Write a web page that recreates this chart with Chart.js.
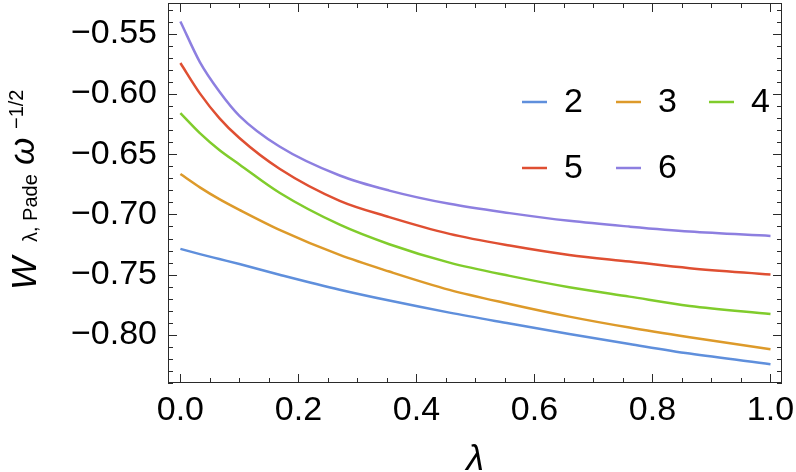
<!DOCTYPE html>
<html>
<head>
<meta charset="utf-8">
<script src="https://cdn.jsdelivr.net/npm/chart.js@4.4.1/dist/chart.umd.min.js"></script>
<style>
  html, body { margin: 0; padding: 0; background: #fff; }
  #wrap { width: 796px; height: 472px; }
</style>
</head>
<body>
<div id="wrap"><canvas id="myChart" width="796" height="472"></canvas></div>
<script>
// values
const lambdaValues = [0, 0.033, 0.066, 0.1, 0.168, 0.27, 0.354, 0.456, 0.558, 0.659, 0.761, 0.863, 1.0];
const order2 = [-0.7286, -0.7329, -0.7370, -0.7412, -0.7500, -0.7625, -0.7715, -0.7815, -0.7905, -0.7992, -0.8075, -0.8155, -0.8243];
const order3 = [-0.6665, -0.6775, -0.6873, -0.6962, -0.7128, -0.7336, -0.7474, -0.7626, -0.7743, -0.7848, -0.7939, -0.8019, -0.8119];
const order4 = [-0.6159, -0.6325, -0.6465, -0.6585, -0.6820, -0.7085, -0.7247, -0.7400, -0.7510, -0.7604, -0.7682, -0.7759, -0.7826];
const order5 = [-0.5743, -0.5995, -0.6200, -0.6366, -0.6621, -0.6887, -0.7022, -0.7161, -0.7258, -0.7336, -0.7391, -0.7446, -0.7499];
const order6 = [-0.5398, -0.5735, -0.5979, -0.6181, -0.6436, -0.6677, -0.6802, -0.6912, -0.6989, -0.7053, -0.7101, -0.7142, -0.7178];
const seriesLabels = ['2', '3', '4', '5', '6'];
const seriesColors = ['#5f8fdc', '#dd9a2a', '#80cc2c', '#df4f32', '#8d7fe0'];
const xTicks = [0, 0.2, 0.4, 0.6, 0.8, 1.0];
const yTicks = [-0.80, -0.75, -0.70, -0.65, -0.60, -0.55];

const FONT = '"Liberation Sans", Arial, sans-serif';

function toPoints(values) {
    return values.map((v, i) => ({ x: lambdaValues[i], y: v }));
}

const allSeries = [order2, order3, order4, order5, order6];
const datasets = allSeries.map((vals, i) => ({
    label: seriesLabels[i],
    data: toPoints(vals),
    borderColor: seriesColors[i],
    backgroundColor: seriesColors[i],
    borderWidth: 2.5,
    pointRadius: 0,
    cubicInterpolationMode: 'monotone',
    fill: false
}));

function minusFmt(v, digits) {
    const s = Math.abs(v).toFixed(digits);
    return v < -1e-9 ? '\u2212' + s : s;
}

// frame with inward ticks (Mathematica style), axis titles, inset legend
const framePlugin = {
    id: 'framePlugin',
    afterDraw(chart) {
        const { ctx, chartArea: a, scales: { x, y } } = chart;
        ctx.save();
        ctx.strokeStyle = '#2a2a2a';
        ctx.lineWidth = 1;
        ctx.strokeRect(a.left + 0.5, a.top + 0.5, a.right - a.left - 1, a.bottom - a.top - 1);

        ctx.beginPath();
        // y ticks: minor every 0.01, major at yTicks
        for (let k = -84; k <= -53; k++) {
            const v = k / 100;
            const py = Math.round(y.getPixelForValue(v)) + 0.5;
            const major = yTicks.some(t => Math.abs(t - v) < 1e-9);
            const len = major ? 9 : 5;
            ctx.moveTo(a.left, py); ctx.lineTo(a.left + len, py);
            ctx.moveTo(a.right, py); ctx.lineTo(a.right - len, py);
        }
        // x ticks: minor every 0.05, major at xTicks
        for (let k = 0; k <= 20; k++) {
            const v = k / 20;
            const px = Math.round(x.getPixelForValue(v)) + 0.5;
            const major = xTicks.some(t => Math.abs(t - v) < 1e-9);
            const len = major ? 9 : 5;
            ctx.moveTo(px, a.bottom); ctx.lineTo(px, a.bottom - len);
            ctx.moveTo(px, a.top); ctx.lineTo(px, a.top + len);
        }
        ctx.stroke();

        // legend inside the plot
        const cols = [522, 616, 709];
        const rows = [102, 168];
        ctx.textBaseline = 'middle';
        ctx.textAlign = 'left';
        ctx.font = '34px ' + FONT;
        chart.data.datasets.forEach((ds, i) => {
            const cx = cols[i % 3];
            const cy = rows[Math.floor(i / 3)];
            ctx.strokeStyle = ds.borderColor;
            ctx.lineWidth = 2.5;
            ctx.beginPath();
            ctx.moveTo(cx, cy); ctx.lineTo(cx + 25, cy);
            ctx.stroke();
            ctx.fillStyle = '#000';
            ctx.fillText(ds.label, cx + 42, cy + 1);
        });

        // x axis title
        ctx.textAlign = 'center';
        ctx.textBaseline = 'alphabetic';
        ctx.font = 'italic 36px ' + FONT;
        ctx.fillText('\u03bb', (a.left + a.right) / 2, 470);

        // y axis title, rotated
        ctx.translate(36, 290);
        ctx.rotate(-Math.PI / 2);
        ctx.textAlign = 'left';
        ctx.font = 'italic 35px ' + FONT;
        ctx.fillText('W', 0, 0);
        ctx.font = '20px ' + FONT;
        ctx.fillText('\u03bb, Pade', 48, 1);
        ctx.font = 'italic 35px ' + FONT;
        ctx.fillText('\u03c9', 125, -2);
        ctx.font = '20px ' + FONT;
        ctx.fillText('\u22121/2', 161, -13);
        ctx.restore();
    }
};

const ctx = document.getElementById('myChart').getContext('2d');
const myChart = new Chart(ctx, {
    type: 'line',
    data: { datasets: datasets },
    options: {
        responsive: false,
        animation: false,
        events: [],
        layout: { padding: { top: 3, right: 14, left: 0, bottom: 0 } },
        plugins: {
            legend: { display: false },
            tooltip: { enabled: false }
        },
        scales: {
            x: {
                type: 'linear',
                min: -0.021,
                max: 1.0195,
                afterBuildTicks: scale => { scale.ticks = xTicks.map(v => ({ value: v })); },
                afterFit: scale => {
                    scale.height = 89;
                    scale.paddingLeft = 0; scale.paddingRight = 0;
                },
                grid: { display: false, drawTicks: false },
                border: { display: false },
                ticks: {
                    color: '#000',
                    padding: 7,
                    maxRotation: 0,
                    font: { family: FONT, size: 34 },
                    callback: v => minusFmt(v, 1)
                }
            },
            y: {
                type: 'linear',
                min: -0.8399,
                max: -0.5245,
                afterBuildTicks: scale => { scale.ticks = yTicks.map(v => ({ value: v })); },
                afterFit: scale => {
                    scale.width = 168;
                    scale.paddingTop = 0; scale.paddingBottom = 0;
                },
                grid: { display: false, drawTicks: false },
                border: { display: false },
                ticks: {
                    color: '#000',
                    padding: 11,
                    font: { family: FONT, size: 34 },
                    callback: v => minusFmt(v, 2)
                }
            }
        }
    },
    plugins: [framePlugin]
});
</script>
</body>
</html>
